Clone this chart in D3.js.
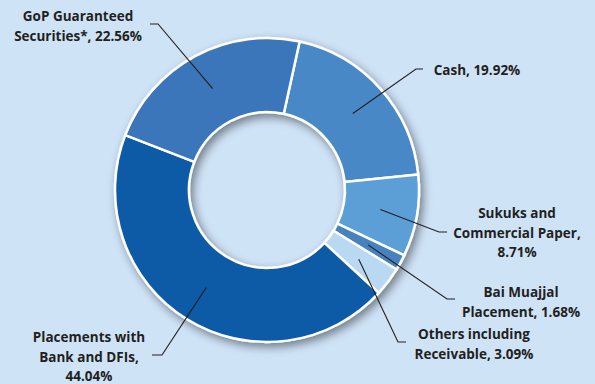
<!DOCTYPE html>
<html>
<head>
<meta charset="utf-8">
<script src="https://cdn.jsdelivr.net/npm/d3@7"></script>
<style>
	html, body { margin: 0; padding: 0; }
	body { width: 595px; height: 384px; background: #cfe3f7; overflow: hidden; }
	text { font-family: "Open Sans", sans-serif; font-weight: 700; fill: #231f20; }
</style>
</head>
<body>
<div id="chart"></div>
<script>
'use strict';

// ----------   Data   ------------ //

const categories = ["Cash", "Sukuks and Commercial Paper", "Bai Muajjal Placement",
	"Others including Receivable", "Placements with Bank and DFIs", "GoP Guaranteed Securities*"];
const shares = [19.92, 8.71, 1.68, 3.09, 44.04, 22.56];
const colours = ["#4a88c7", "#5c9fd6", "#4781be", "#b9d8f2", "#0e5aa7", "#3a74ba"];
const labelLines = [
	["Cash, 19.92%"],
	["Sukuks and", "Commercial Paper,", "8.71%"],
	["Bai Muajjal", "Placement, 1.68%"],
	["Others including", "Receivable, 3.09%"],
	["Placements with", "Bank and DFIs,", "44.04%"],
	["GoP Guaranteed", "Securities*, 22.56%"]
];
// label layout: text centre x, first baseline y, leader elbow (x, y), leader start x
const labelSpots = [
	{ x: 477, y: 75,  ex: 416, ey: 69,  sx: 423 },
	{ x: 517, y: 218, ex: 439, ey: 232, sx: 447 },
	{ x: 521, y: 297, ex: 447, ey: 299, sx: 455 },
	{ x: 474, y: 339, ex: 398, ey: 342, sx: 406 },
	{ x: 89,  y: 342, ex: 162, ey: 355, sx: 152 },
	{ x: 78,  y: 21,  ex: 158, ey: 24,  sx: 150 }
];


const drawChart = () =>
{
	const width  = 595;
	const height = 384;
	const cx     = 267;
	const cy     = 190;
	const outer  = 152;
	const inner  = 78;
	const start  = 12.4 * Math.PI / 180;

	const svg = d3.select("#chart")
		.append("svg")
		.attr("width", width)
		.attr("height", height);

	const defs = svg.append("defs");
	const filter = defs.append("filter")
		.attr("id", "shadow")
		.attr("x", "-20%").attr("y", "-20%")
		.attr("width", "140%").attr("height", "140%");
	filter.append("feDropShadow")
		.attr("dx", 3)
		.attr("dy", 4)
		.attr("stdDeviation", 5)
		.attr("flood-color", "#000")
		.attr("flood-opacity", 0.45);

	const pie = d3.pie()
		.sort(null)
		.value(d => d)
		.startAngle(start)
		.endAngle(start + 2 * Math.PI);

	const arc = d3.arc()
		.innerRadius(inner)
		.outerRadius(outer);

	const arcs = pie(shares);

	const g = svg.append("g")
		.attr("transform", "translate(" + cx + "," + cy + ")");

	g.append("g")
		.attr("filter", "url(#shadow)")
		.selectAll("path")
		.data(arcs)
		.enter()
			.append("path")
			.attr("d", arc)
			.attr("fill", (d, i) => colours[i])
			.style("stroke", "#fff")
			.style("stroke-width", 2.5)
			.style("stroke-linejoin", "round");

	// leader lines
	svg.selectAll(".leader")
		.data(arcs)
		.enter()
			.append("polyline")
			.attr("class", "leader")
			.attr("points", (d, i) =>
			{
				const c = arc.centroid(d);
				const s = labelSpots[i];
				return [[s.sx, s.ey], [s.ex, s.ey], [cx + c[0], cy + c[1]]].map(p => p.join(",")).join(" ");
			})
			.attr("fill", "none")
			.style("stroke", "#231f20")
			.style("stroke-width", 1.1);

	// labels
	labelLines.forEach((lines, i) =>
	{
		const s = labelSpots[i];
		const t = svg.append("text")
			.attr("text-anchor", "middle")
			.attr("font-size", "13.5px");
		lines.forEach((line, j) =>
		{
			t.append("tspan")
				.attr("x", s.x)
				.attr("y", s.y + j * 19.5)
				.text(line);
		});
	});
};


document.addEventListener("DOMContentLoaded", () =>
{
	drawChart();
}, false);
</script>
</body>
</html>
